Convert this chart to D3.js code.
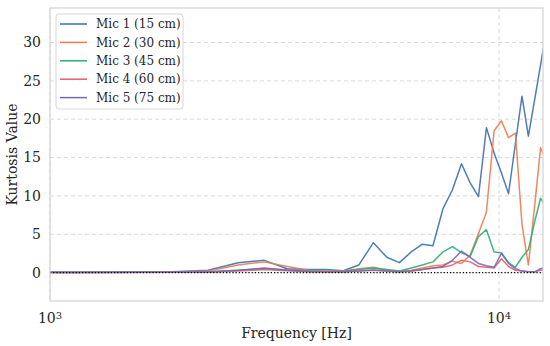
<!DOCTYPE html>
<html>
<head>
<meta charset="utf-8">
<script src="https://cdn.jsdelivr.net/npm/d3@7"></script>
<style>
  body { margin: 0; background: #fff; }
  svg text { font-family: "DejaVu Serif", serif; fill: #262626; }
</style>
</head>
<body>
<svg id="chart"></svg>
<script>
// frequency bins (Hz), 375 Hz spacing
const freqs = [750, 1125, 1500, 1875, 2250, 2625, 3000, 3375, 3750, 4125, 4500,
  4875, 5250, 5625, 6000, 6375, 6750, 7125, 7500, 7875, 8250, 8625, 9000, 9375,
  9750, 10125, 10500, 10875, 11250, 11625, 12000, 12375, 12750];

const mic1 = [0.05, 0.05, 0.08, 0.1, 0.3, 1.3, 1.6, 0.5, 0.4, 0.4, 0.25, 1.0, 3.9,
  2.0, 1.3, 2.7, 3.7, 3.5, 8.3, 10.8, 14.2, 11.7, 9.9, 18.9, 15.6, 13.0, 10.3,
  16.8, 23.0, 17.8, 22.5, 27.1, 31.5];
const mic2 = [0.02, 0.03, 0.05, 0.08, 0.2, 1.0, 1.4, 0.8, 0.3, 0.2, 0.2, 0.5, 0.7,
  0.3, 0.1, 0.3, 0.6, 0.9, 1.0, 1.5, 1.2, 2.3, 5.1, 7.9, 18.5, 19.8, 17.6, 18.2,
  6.3, 1.0, 8.6, 16.3, 14.5];
const mic3 = [0.02, 0.03, 0.05, 0.06, 0.1, 0.3, 0.5, 0.3, 0.2, 0.15, 0.15, 0.4,
  0.6, 0.4, 0.2, 0.6, 1.0, 1.4, 2.7, 3.4, 2.6, 2.1, 4.7, 5.6, 2.7, 2.6, 1.3, 0.7,
  2.0, 3.0, 6.6, 9.7, 8.5];
const mic4 = [0.02, 0.02, 0.03, 0.04, 0.05, 0.2, 0.4, 0.25, 0.1, 0.1, 0.1, 0.2,
  0.3, 0.2, 0.1, 0.2, 0.4, 0.6, 0.7, 1.0, 1.6, 1.4, 0.8, 0.7, 0.6, 1.8, 0.8, 0.3,
  0.2, 0.1, 0.1, 0.3, 0.4];
const mic5 = [0.04, 0.05, 0.06, 0.07, 0.08, 0.3, 0.6, 0.35, 0.15, 0.12, 0.1, 0.2,
  0.35, 0.2, 0.1, 0.2, 0.4, 0.6, 0.8, 1.6, 2.8, 2.0, 1.2, 0.9, 0.7, 2.5, 1.2, 0.5,
  0.2, 0.1, 0.1, 0.5, 0.7];

const seriesNames = ["Mic 1 (15 cm)", "Mic 2 (30 cm)", "Mic 3 (45 cm)",
  "Mic 4 (60 cm)", "Mic 5 (75 cm)"];
const seriesValues = [mic1, mic2, mic3, mic4, mic5];
const colors = ["#3b6fb0", "#f07a4f", "#2aae74", "#e45f6c", "#7668b6"];

const yTicks = [0, 5, 10, 15, 20, 25, 30];
const xTicks = [1000, 10000];
const xTickExp = ["3", "4"];

const width = 550, height = 346;
const margin = { top: 8, right: 7, bottom: 45, left: 50 };
const innerW = width - margin.left - margin.right;
const innerH = height - margin.top - margin.bottom;

const svg = d3.select("#chart").attr("width", width).attr("height", height);

const x = d3.scaleLog().domain([1000, 12530]).range([0, innerW]);
const y = d3.scaleLinear().domain([-3.7, 34.5]).range([innerH, 0]);

const g = svg.append("g")
  .attr("transform", `translate(${margin.left},${margin.top})`);

g.append("clipPath").attr("id", "clip")
  .append("rect").attr("width", innerW).attr("height", innerH);

// grid
g.selectAll(".hgrid").data(yTicks).enter().append("line")
  .attr("x1", 0).attr("x2", innerW)
  .attr("y1", d => y(d)).attr("y2", d => y(d))
  .attr("stroke", "#d9d9d9").attr("stroke-width", 1)
  .attr("stroke-dasharray", "4,3");
g.selectAll(".vgrid").data(xTicks).enter().append("line")
  .attr("x1", d => x(d)).attr("x2", d => x(d))
  .attr("y1", 0).attr("y2", innerH)
  .attr("stroke", "#d9d9d9").attr("stroke-width", 1)
  .attr("stroke-dasharray", "4,3");

// lines
const line = d3.line()
  .x((d, i) => x(freqs[i]))
  .y(d => y(d));

const plot = g.append("g").attr("clip-path", "url(#clip)");
seriesValues.forEach((vals, i) => {
  plot.append("path")
    .attr("d", line(vals))
    .attr("fill", "none")
    .attr("stroke", colors[i])
    .attr("stroke-width", 1.5)
    .attr("stroke-opacity", 0.9)
    .attr("stroke-linejoin", "round");
});

// zero reference
g.append("line")
  .attr("x1", 0).attr("x2", innerW)
  .attr("y1", y(0)).attr("y2", y(0))
  .attr("stroke", "#000").attr("stroke-width", 1.2)
  .attr("stroke-dasharray", "1.2,2");

// frame
g.append("rect")
  .attr("width", innerW).attr("height", innerH)
  .attr("fill", "none").attr("stroke", "#d6d6d6").attr("stroke-width", 1.3);

// y tick labels
g.selectAll(".ytick").data(yTicks).enter().append("text")
  .attr("x", -9).attr("y", d => y(d)).attr("dy", "0.35em")
  .attr("text-anchor", "end").style("font-size", "14px")
  .text(d => d);

// x tick labels
const xl = g.selectAll(".xtick").data(xTicks).enter().append("text")
  .attr("x", d => x(d)).attr("y", innerH + 22)
  .attr("text-anchor", "middle").style("font-size", "14px");
xl.append("tspan").text("10");
xl.append("tspan").attr("dy", "-0.45em").style("font-size", "10px")
  .text((d, i) => xTickExp[i]);

// axis titles
svg.append("text")
  .attr("x", margin.left + innerW / 2).attr("y", 338)
  .attr("text-anchor", "middle").style("font-size", "14px")
  .text("Frequency [Hz]");
svg.append("text")
  .attr("transform", `translate(17,${margin.top + innerH / 2}) rotate(-90)`)
  .attr("text-anchor", "middle").style("font-size", "14px")
  .text("Kurtosis Value");

// legend
const legend = g.append("g").attr("transform", "translate(6,6)");
legend.append("rect")
  .attr("width", 127).attr("height", 95).attr("rx", 3)
  .attr("fill", "#fff").attr("fill-opacity", 0.85)
  .attr("stroke", "#d6d6d6");
seriesNames.forEach((name, i) => {
  const row = legend.append("g").attr("transform", `translate(0,${10 + i * 18.4})`);
  row.append("line").attr("x1", 4).attr("x2", 31)
    .attr("stroke", colors[i]).attr("stroke-width", 1.5);
  row.append("text").attr("x", 40).attr("dy", "0.35em")
    .style("font-size", "12px").text(name);
});
</script>
</body>
</html>
